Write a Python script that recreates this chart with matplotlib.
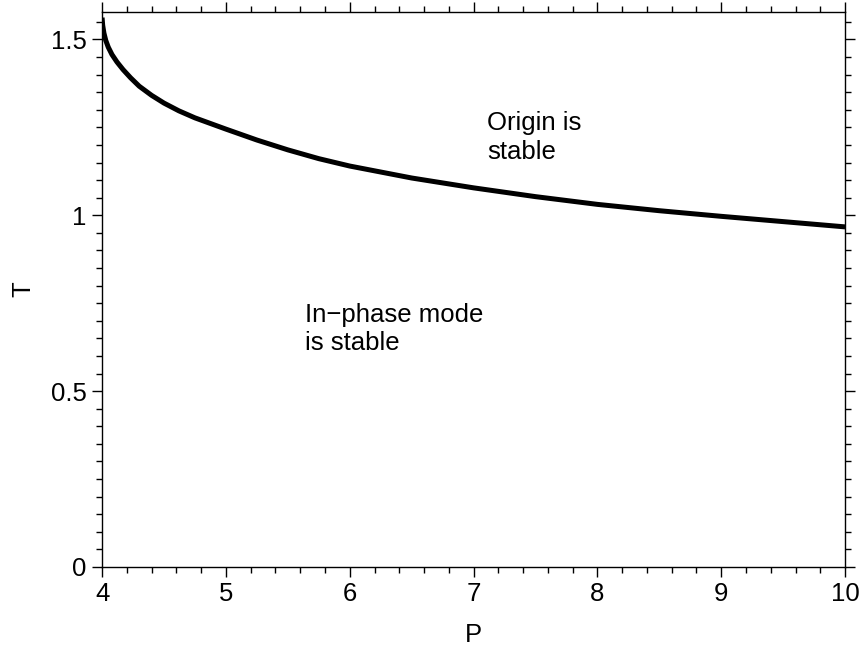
import matplotlib
matplotlib.use("Agg")
import matplotlib.pyplot as plt
from matplotlib.ticker import MultipleLocator

# boundary curve
p_values = [4.0, 4.005, 4.015, 4.03, 4.05, 4.08, 4.12, 4.17, 4.23, 4.3, 4.4, 4.5,
            4.62, 4.75, 5.0, 5.25, 5.5, 5.75, 6.0, 6.5, 7.0, 7.5, 8.0, 8.5, 9.0,
            9.5, 10.0]
t_values = [1.562, 1.540, 1.518, 1.497, 1.478, 1.457, 1.436, 1.414, 1.391, 1.367,
            1.341, 1.319, 1.297, 1.277, 1.245, 1.214, 1.186, 1.161, 1.140, 1.106,
            1.078, 1.053, 1.031, 1.013, 0.997, 0.982, 0.967]

plt.rcParams['font.family'] = ['Liberation Sans', 'DejaVu Sans']

fig = plt.figure(figsize=(8.65, 6.52), dpi=100)
ax = fig.add_axes([0.118, 0.1304, 0.859, 0.8512])

ax.plot(p_values, t_values, color='black', linewidth=3.6, solid_capstyle='butt',
        solid_joinstyle='round')

ax.text(5.64, 0.752, "In\u2212phase mode\nis stable", fontsize=18.5, va='top',
        ha='left', linespacing=1.25)
ax.text(7.11, 1.296, "Origin is\nstable", fontsize=18.5, va='top', ha='left',
        linespacing=1.25)

ax.set_xlim(4, 10)
ax.set_ylim(0, 1.578)
ax.xaxis.set_major_locator(MultipleLocator(1))
ax.xaxis.set_minor_locator(MultipleLocator(0.2))
ax.yaxis.set_minor_locator(MultipleLocator(0.05))
ax.set_yticks([0, 0.5, 1, 1.5], ["0", "0.5", "1", "1.5"])

ax.tick_params(which='both', direction='out', top=True, right=True,
               labelsize=18.5, width=1.0, colors='black')
ax.tick_params(which='major', length=7, pad=4)
ax.tick_params(which='minor', length=4)
for s in ax.spines.values():
    s.set_linewidth(1.0)

ax.set_xlabel("P", fontsize=18.5, labelpad=12)
ax.set_ylabel("T", fontsize=18.5, labelpad=11)

fig.savefig("out.png", dpi=100)
